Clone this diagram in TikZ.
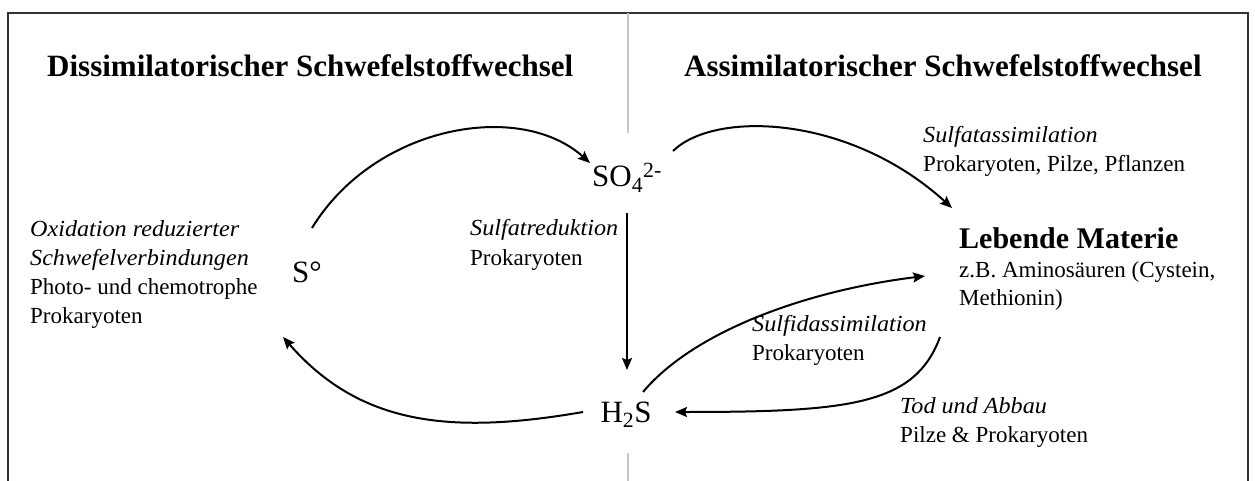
\documentclass[tikz,border=0pt]{standalone}
\usepackage{fontspec}
\setmainfont{Liberation Serif}[ItalicFeatures={FakeStretch=1.05}]
\usetikzlibrary{arrows.meta,calc}
\tikzset{
  arr/.style={line width=2pt,-{Stealth[length=12pt,width=10pt,inset=2pt]}},
  frame/.style={draw=black!80,line width=1.3pt},
  divider/.style={draw=black!22,line width=1.6pt},
  title/.style={font=\fontsize{31}{36}\selectfont\bfseries,inner sep=0pt,anchor=base west},
  species/.style={font=\fontsize{31}{36}\selectfont,inner sep=0pt,anchor=base},
  lbl/.style={font=\fontsize{23}{29}\selectfont,inner sep=0pt,anchor=base west,align=left},
}
\begin{document}
\begin{tikzpicture}[x=1pt,y=-1pt]
\useasboundingbox (0,0) rectangle (1255,481);
% frame
\draw[frame] (8,481) -- (8,13) -- (1248,13) -- (1248,481);
\draw[divider] (628,13) -- (628,133);
\draw[divider] (628,453) -- (628,481);
% titles
\node[title] (tdis) at (47,77) {Dissimilatorischer Schwefelstoffwechsel};
\node[title] (tass) at (684,77) {Assimilatorischer Schwefelstoffwechsel};
% species
\node[species] (so4) at (627,187) {SO\textsubscript{4}\textsuperscript{2-}};
\node[species] (h2s) at (626,422) {H\textsubscript{2}S};
\node[species] (sdeg) at (307,282) {S°};
% labels (base = baseline of last line)
\node[lbl] (oxid) at (30,323) {\textit{Oxidation reduzierter}\\\textit{Schwefelverbindungen}\\Photo- und chemotrophe\\Prokaryoten};
\node[lbl] (sred) at (470,265) {\textit{Sulfatreduktion}\\Prokaryoten};
\node[lbl] (sass) at (923,172) {\textit{Sulfatassimilation}\\Prokaryoten, Pilze, Pflanzen};
\node[font=\fontsize{30}{34}\selectfont\bfseries,inner sep=0pt,anchor=base west] (leb) at (959,248) {Lebende Materie};
\node[lbl,font=\fontsize{23}{28}\selectfont] (amino) at (959,305) {z.B. Aminosäuren (Cystein,\\Methionin)};
\node[lbl] (sid) at (752,360) {\textit{Sulfidassimilation}\\Prokaryoten};
\node[lbl] (tod) at (900,442) {\textit{Tod und Abbau}\\Pilze \& Prokaryoten};
% arrows
\draw[arr] ($(sdeg.base)+(5,-54)$) .. controls (375,125) and (520,100) .. ($(so4.base)+(-37,-24)$);
\draw[arr] ($(so4.base)+(46,-36)$) .. controls (715,110) and (850,115) .. ($(leb.base west)+(-7,-40)$);
\draw[arr] ($(so4.base)+(0,26)$) -- ($(h2s.base)+(1,-52)$);
\draw[arr] ($(h2s.base)+(17,-30)$) .. controls (695,330) and (810,290) .. ($(leb.base west)+(-34,28)$);
\draw[arr] ($(leb.base west)+(-19,89)$) .. controls (915,405) and (850,412) .. ($(h2s.base)+(49,-10)$);
\draw[arr] ($(h2s.base)+(-43,-10)$) .. controls (450,435) and (360,425) .. ($(sdeg.base)+(-24,55)$);
\end{tikzpicture}
\end{document}
